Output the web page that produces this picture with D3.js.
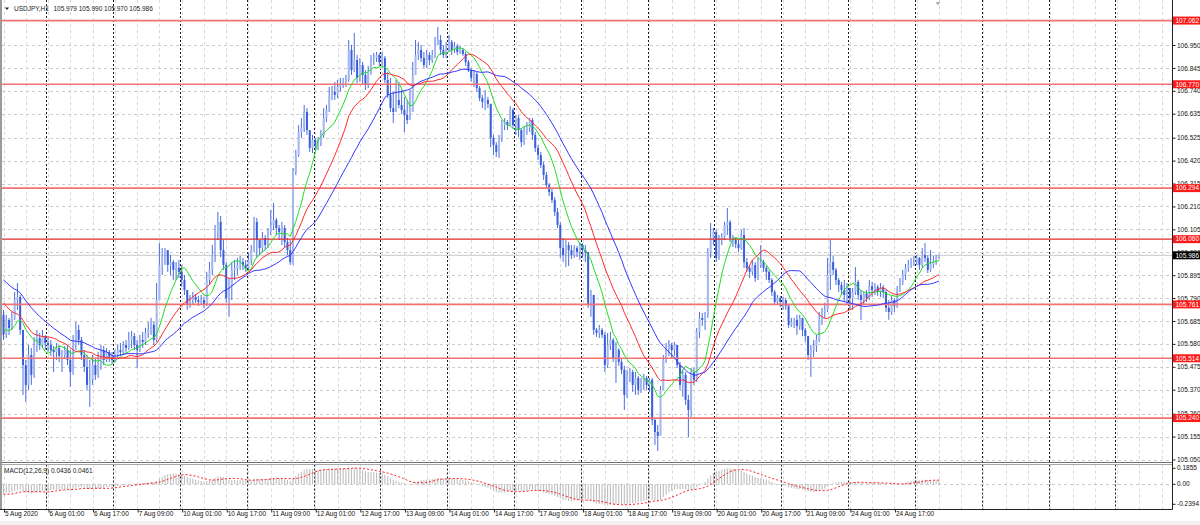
<!DOCTYPE html>
<html><head><meta charset="utf-8">
<script src="https://cdn.jsdelivr.net/npm/d3@7"></script>
<style>html,body{margin:0;padding:0;background:#fff;overflow:hidden}</style>
</head><body>
<svg id="c" width="1200" height="525"></svg>
<script>
// ---------------- DATA ----------------
const symbolTitle = "USDJPY,H1";
const lastQuote = ["105.979", "105.990", "105.970", "105.986"];
const firstBarHour = 9; // first visible bar: 5 Aug 2020 09:00
// closes before the visible window (only used to seed the indicators)
const priorCloses = [106.079,106.056,106.065,106.033,106.047,106.010,106.038,106.065,106.029,106.019,106.042,106.056,106.024,
  105.987,105.955,105.919,105.928,105.896,105.873,105.850,105.836,105.827,105.818,105.790,
  105.699,105.667,105.644,105.621,105.589,105.607,105.621,105.658,105.713];
const closes = [
105.621,105.690,105.653,105.699,105.781,105.795,105.644,105.483,105.392,105.529,
105.438,105.575,105.607,105.575,105.612,105.584,105.575,105.552,105.543,105.561,
105.525,105.529,105.552,105.506,105.451,105.575,105.644,105.598,105.529,105.474,
105.392,105.415,105.483,105.438,105.497,105.552,105.506,105.543,105.520,105.506,
105.529,105.552,105.543,105.575,105.561,105.598,105.616,105.575,105.552,105.598,
105.589,105.630,105.644,105.667,105.598,105.781,105.942,105.987,106.010,105.942,
105.955,105.919,105.928,105.910,105.873,105.827,105.758,105.781,105.795,105.781,
105.772,105.781,105.758,105.873,105.919,105.987,106.102,106.139,106.010,105.942,
105.790,105.850,105.919,105.928,105.942,105.955,105.942,105.928,105.965,106.010,
106.139,106.056,106.019,106.065,106.033,106.093,106.125,106.148,106.111,106.093,
106.111,106.047,106.010,105.955,106.368,106.446,106.551,106.569,106.643,106.560,
106.478,106.515,106.492,106.505,106.538,106.615,106.652,106.712,106.735,106.721,
106.758,106.767,106.781,106.790,106.927,106.835,106.881,106.799,106.858,106.813,
106.767,106.826,106.881,106.890,106.904,106.872,106.890,106.790,106.721,106.661,
106.643,106.698,106.675,106.652,106.629,106.606,106.643,106.813,106.904,106.927,
106.890,106.858,106.904,106.881,106.904,106.950,106.973,106.927,106.904,106.936,
106.964,106.927,106.945,106.918,106.927,106.909,106.872,106.835,106.799,106.817,
106.753,106.707,106.689,106.698,106.680,106.524,106.492,106.460,106.524,106.583,
106.597,106.583,106.652,106.583,106.615,106.560,106.505,106.560,106.569,106.606,
106.538,106.478,106.446,106.400,106.354,106.308,106.276,106.240,106.185,106.125,
106.019,105.987,106.033,106.010,105.987,106.019,106.001,106.033,106.010,106.001,
105.758,105.804,105.644,105.630,105.644,105.621,105.483,105.575,105.598,105.515,
105.552,105.497,105.461,105.346,105.438,105.451,105.392,105.424,105.369,105.405,
105.424,105.392,105.415,105.231,105.176,105.158,105.369,105.506,105.561,105.575,
105.552,105.575,105.483,105.392,105.438,105.323,105.277,105.451,105.415,105.635,
105.699,105.690,105.713,106.001,106.065,106.093,105.974,106.056,106.070,106.125,
106.139,106.065,106.056,106.038,106.019,106.079,105.955,105.928,105.910,105.942,
105.882,105.942,105.955,105.928,105.910,105.873,105.818,105.772,105.790,105.772,
105.781,105.754,105.667,105.681,105.690,105.662,105.699,105.644,105.616,105.529,
105.552,105.570,105.598,105.690,105.726,105.736,105.896,105.955,105.919,105.873,
105.850,105.827,105.804,105.836,105.790,105.818,105.864,105.804,105.781,105.809,
105.790,105.845,105.827,105.841,105.818,105.836,105.818,105.745,105.726,105.781,
105.754,105.827,105.864,105.896,105.928,105.942,105.955,105.955,105.974,105.942,
105.987,105.974,105.919,105.946,105.955,105.979,105.986];
const highs = [
105.736,105.713,105.699,105.726,105.818,105.859,105.804,105.644,105.506,105.575,
105.561,105.612,105.644,105.630,105.644,105.621,105.607,105.598,105.570,105.584,
105.575,105.552,105.570,105.575,105.552,105.621,105.681,105.667,105.612,105.552,
105.529,105.506,105.529,105.515,105.543,105.575,105.570,105.561,105.552,105.543,
105.552,105.575,105.584,105.593,105.598,105.635,105.639,105.630,105.598,105.621,
105.635,105.653,105.681,105.699,105.681,105.859,106.042,106.019,106.019,106.010,
105.987,105.965,105.955,105.965,105.942,105.896,105.827,105.804,105.818,105.809,
105.800,105.804,105.795,105.910,105.955,106.033,106.125,106.185,106.166,106.056,
105.955,105.882,105.955,105.965,105.974,105.983,105.974,105.965,105.997,106.033,
106.162,106.157,106.056,106.093,106.079,106.111,106.194,106.226,106.157,106.125,
106.139,106.125,106.065,106.056,106.386,106.469,106.583,106.615,106.675,106.661,
106.560,106.538,106.524,106.528,106.560,106.661,106.675,106.758,106.762,106.781,
106.790,106.799,106.799,106.813,106.973,106.950,107.005,106.904,106.890,106.872,
106.835,106.854,106.904,106.913,106.918,106.913,106.918,106.900,106.826,106.799,
106.735,106.790,106.781,106.744,106.712,106.698,106.744,106.872,106.973,106.964,
106.950,106.918,106.927,106.918,106.927,106.987,107.032,106.996,106.950,106.964,
106.996,106.973,106.964,106.955,106.945,106.936,106.918,106.881,106.845,106.835,
106.826,106.762,106.721,106.744,106.712,106.680,106.538,106.505,106.538,106.606,
106.615,106.606,106.670,106.661,106.629,106.629,106.569,106.579,106.597,106.615,
106.615,106.551,106.492,106.460,106.414,106.368,106.317,106.295,106.253,106.203,
106.139,106.065,106.056,106.047,106.033,106.033,106.029,106.047,106.042,106.033,
106.001,105.827,105.804,105.653,105.667,105.653,105.635,105.630,105.635,105.607,
105.589,105.561,105.515,105.479,105.461,105.470,105.461,105.451,105.433,105.424,
105.442,105.433,105.424,105.424,105.240,105.208,105.387,105.529,105.584,105.598,
105.584,105.589,105.575,105.497,105.461,105.451,105.346,105.470,105.470,105.653,
105.726,105.722,105.726,106.019,106.134,106.111,106.102,106.079,106.088,106.139,
106.203,106.148,106.079,106.065,106.056,106.102,106.111,105.974,105.942,105.965,
105.955,105.974,106.033,105.965,105.937,105.919,105.882,105.827,105.804,105.800,
105.795,105.790,105.758,105.699,105.699,105.713,105.713,105.699,105.653,105.616,
105.575,105.598,105.621,105.726,105.745,105.768,105.974,106.056,105.983,105.928,
105.882,105.864,105.873,105.859,105.836,105.836,105.932,105.873,105.827,105.818,
105.827,105.873,105.864,105.859,105.850,105.859,105.850,105.827,105.781,105.800,
105.790,105.845,105.882,105.919,105.946,105.965,105.974,105.983,105.987,105.978,
106.019,106.042,105.987,106.010,105.983,105.987,105.990];
const lows = [
105.598,105.607,105.621,105.644,105.690,105.736,105.621,105.346,105.314,105.369,
105.392,105.424,105.543,105.552,105.561,105.552,105.543,105.525,105.451,105.506,
105.497,105.451,105.515,105.483,105.383,105.438,105.552,105.575,105.506,105.451,
105.369,105.291,105.392,105.415,105.424,105.461,105.483,105.497,105.497,105.488,
105.497,105.515,105.525,105.529,105.543,105.552,105.561,105.552,105.470,105.543,
105.561,105.575,105.607,105.621,105.575,105.589,105.781,105.896,105.942,105.910,
105.896,105.873,105.873,105.882,105.841,105.804,105.736,105.745,105.758,105.768,
105.754,105.758,105.745,105.754,105.850,105.896,105.955,106.056,105.978,105.919,
105.768,105.704,105.781,105.873,105.896,105.919,105.919,105.910,105.919,105.942,
106.001,105.978,105.987,106.001,106.010,106.019,106.079,106.102,106.079,106.056,
106.033,106.019,105.987,105.942,105.942,106.354,106.437,106.524,106.551,106.538,
106.460,106.455,106.469,106.469,106.487,106.524,106.597,106.643,106.698,106.698,
106.707,106.735,106.753,106.758,106.781,106.813,106.826,106.776,106.781,106.767,
106.744,106.753,106.813,106.858,106.872,106.854,106.854,106.776,106.707,106.643,
106.593,106.680,106.661,106.634,106.551,106.588,106.606,106.712,106.835,106.881,
106.872,106.845,106.845,106.858,106.867,106.890,106.959,106.904,106.890,106.890,
106.918,106.904,106.913,106.904,106.909,106.900,106.854,106.826,106.781,106.758,
106.735,106.693,106.661,106.652,106.661,106.482,106.446,106.437,106.432,106.505,
106.560,106.560,106.579,106.569,106.538,106.528,106.482,106.492,106.538,106.551,
106.515,106.460,106.423,106.386,106.331,106.295,106.258,106.226,106.166,106.111,
105.974,105.955,105.932,105.937,105.969,105.974,105.978,105.965,105.974,105.955,
105.745,105.704,105.621,105.612,105.607,105.607,105.451,105.470,105.552,105.497,
105.401,105.479,105.442,105.277,105.332,105.405,105.360,105.346,105.346,105.355,
105.369,105.369,105.360,105.208,105.117,105.089,105.158,105.369,105.493,105.525,
105.515,105.525,105.470,105.369,105.337,105.300,105.153,105.245,105.392,105.405,
105.607,105.662,105.644,105.699,105.974,106.033,105.955,105.965,106.033,106.056,
106.079,106.047,106.024,106.019,106.001,106.010,105.928,105.910,105.882,105.896,
105.864,105.873,105.928,105.910,105.873,105.859,105.800,105.758,105.758,105.749,
105.736,105.736,105.653,105.658,105.653,105.621,105.644,105.616,105.589,105.506,
105.429,105.520,105.543,105.589,105.667,105.699,105.726,105.827,105.896,105.850,
105.818,105.804,105.772,105.758,105.736,105.736,105.804,105.781,105.690,105.758,
105.772,105.781,105.795,105.804,105.800,105.795,105.790,105.726,105.690,105.713,
105.726,105.745,105.818,105.850,105.873,105.910,105.928,105.937,105.942,105.919,
105.928,105.955,105.905,105.910,105.928,105.942,105.970];

const priceTicks = [106.950,106.845,106.740,106.635,106.525,106.420,106.315,106.210,106.105,106.000,
  105.895,105.790,105.685,105.580,105.475,105.370,105.260,105.155,105.050];
const hLines = [107.062, 106.770, 106.294, 106.060, 105.761, 105.514, 105.240];
const strongLine = 106.060;
const currentPrice = 105.986;
const timeLabels = ["5 Aug 2020","6 Aug 01:00","6 Aug 17:00","7 Aug 09:00","10 Aug 01:00","10 Aug 17:00",
  "11 Aug 09:00","12 Aug 01:00","12 Aug 17:00","13 Aug 09:00","14 Aug 01:00","14 Aug 17:00","17 Aug 09:00",
  "18 Aug 01:00","18 Aug 17:00","19 Aug 09:00","20 Aug 01:00","20 Aug 17:00","21 Aug 09:00","24 Aug 01:00","24 Aug 17:00"];
const timeLabelBars = [0,16,32,48,64,80,96,112,128,144,160,176,192,208,224,240,256,272,288,304,320];
const maPeriods = [10, 21, 34];
const maColors = ["#22dd22", "#ff2a2a", "#3535ff"];
const macdParams = [12, 26, 9];
const macdText = "MACD(12,26,9) 0.0436 0.0461";
const macdTicks = [0.1855, 0, -0.2394];
const macdTickLabels = ["0.1855", "0.00", "-0.2394"];

// ---------------- LAYOUT ----------------
const FONT = "'Liberation Sans', Arial, sans-serif";
const PL = 2, PR = 1172.5, MT = 0, MB = 462.5, CT = 464.5, CB = 509.5;
const n = closes.length;
const x = d3.scaleLinear().domain([0, n - 1]).range([3.5, 3.5 + 2.784 * (n - 1)]);
const y = d3.scaleLinear().domain([105.050, 106.950]).range([459.5, 45]);
const my = d3.scaleLinear().domain([-0.2394, 0.1855]).range([508, 466]);

const opens = closes.map((c, i) => i ? closes[i - 1] : priorCloses[priorCloses.length - 1]);
const bars = closes.map((c, i) => ({
  i, o: opens[i], c,
  h: Math.max(highs[i], opens[i], c),
  l: Math.min(lows[i], opens[i], c)
}));

// indicators
const full = priorCloses.concat(closes), P = priorCloses.length;
function sma(a, p) { return a.map((v, i) => i < p - 1 ? null : d3.mean(a.slice(i - p + 1, i + 1))); }
function ema(a, p) { const k = 2 / (p + 1); let e = a[0]; return a.map((v, i) => (e = i ? v * k + e * (1 - k) : v)); }
const mas = maPeriods.map(p => sma(full, p).slice(P));
const e1 = ema(full, macdParams[0]), e2 = ema(full, macdParams[1]);
const macdFull = e1.map((v, i) => v - e2[i]);
const sigFull = sma(macdFull, macdParams[2]);
const macd = macdFull.slice(P), signal = sigFull.slice(P);

const svg = d3.select("#c");
svg.append("rect").attr("width", 1200).attr("height", 525).attr("fill", "#fff");
const defs = svg.append("defs");
defs.append("clipPath").attr("id", "cm").append("rect").attr("x", PL).attr("y", MT).attr("width", PR - PL).attr("height", MB - MT);
defs.append("clipPath").attr("id", "cc").append("rect").attr("x", PL).attr("y", CT).attr("width", PR - PL).attr("height", CB - CT);

const main = svg.append("g").attr("clip-path", "url(#cm)");
const mac = svg.append("g").attr("clip-path", "url(#cc)");

// grids (light dashed every 8 bars, dark dotted day separators)
const lastVisible = Math.floor(x.invert(PR));
const dayStart = (24 - firstBarHour) % 24;
const gridBars = d3.range(0, lastVisible + 1, 8);
const dayBars = d3.range(dayStart, lastVisible + 1, 24);
[main, mac].forEach((g, k) => {
  const t = k ? CT : MT, b = k ? CB : MB;
  g.append("g").attr("class", "vgrid").selectAll("line").data(gridBars).join("line")
    .attr("x1", d => Math.round(x(d)) + 0.5).attr("x2", d => Math.round(x(d)) + 0.5)
    .attr("y1", t).attr("y2", b)
    .style("stroke", "#d9d9d9").style("stroke-width", "1px").style("stroke-dasharray", "3,3");
  g.append("g").attr("class", "vsep").selectAll("line").data(dayBars).join("line")
    .attr("x1", d => Math.round(x(d)) + 1.5).attr("x2", d => Math.round(x(d)) + 1.5)
    .attr("y1", t).attr("y2", b)
    .style("stroke", "#1a1a1a").style("stroke-width", "1px").style("stroke-dasharray", "2,2");
});
main.append("g").selectAll("line").data(priceTicks).join("line")
  .attr("x1", PL).attr("x2", PR).attr("y1", d => Math.round(y(d)) + 0.5).attr("y2", d => Math.round(y(d)) + 0.5)
  .style("stroke", "#cccccc").style("stroke-dasharray", "3,3");
mac.append("line").attr("x1", PL).attr("x2", PR).attr("y1", Math.round(my(0)) + 0.5).attr("y2", Math.round(my(0)) + 0.5)
  .style("stroke", "#cccccc").style("stroke-dasharray", "3,3");

// current price line
main.append("line").attr("x1", PL).attr("x2", PR).attr("y1", y(currentPrice)).attr("y2", y(currentPrice))
  .attr("stroke", "#c8c8c8").attr("stroke-width", 1);

// candles
const cg = main.append("g");
cg.selectAll("line").data(bars).join("line")
  .attr("x1", d => x(d.i)).attr("x2", d => x(d.i))
  .attr("y1", d => y(d.h)).attr("y2", d => y(d.l))
  .attr("stroke", "#4a6ee0").attr("stroke-width", 1);
cg.selectAll("rect").data(bars).join("rect")
  .attr("x", d => x(d.i) - 1).attr("width", 2)
  .attr("y", d => y(Math.max(d.o, d.c)))
  .attr("height", d => Math.max(1, Math.abs(y(d.o) - y(d.c))))
  .attr("fill", d => d.c >= d.o ? "#a4b7ef" : "#3a5fdc");

// horizontal line objects
main.append("g").selectAll("line").data(hLines).join("line")
  .attr("x1", PL).attr("x2", PR).attr("y1", d => y(d)).attr("y2", d => y(d))
  .attr("stroke", d => d === strongLine ? "#e02a2a" : "#f27272")
  .attr("stroke-width", d => d === strongLine ? 1.1 : 1.7);

// moving averages
mas.forEach((m, k) => {
  main.append("path").datum(m)
    .attr("d", d3.line().defined(v => v != null).x((v, i) => x(i)).y(v => y(v)))
    .attr("fill", "none").attr("stroke", maColors[k]).attr("stroke-width", 1);
});

// MACD histogram + signal
mac.append("g").selectAll("line").data(macd).join("line")
  .attr("x1", (v, i) => x(i)).attr("x2", (v, i) => x(i))
  .attr("y1", my(0)).attr("y2", v => my(v))
  .attr("stroke", "#bdbdbd").attr("stroke-width", 1.1);
mac.append("path").datum(signal)
  .attr("d", d3.line().defined(v => v != null).x((v, i) => x(i)).y(v => my(v)))
  .attr("fill", "none").attr("stroke", "#ff2020").attr("stroke-width", 1).attr("stroke-dasharray", "2,2");

// frames
svg.append("rect").attr("x", 0).attr("y", 0).attr("width", 2).attr("height", 510).attr("fill", "#9a9a9a");
svg.append("line").attr("x1", PL).attr("x2", PR).attr("y1", 462.5).attr("y2", 462.5).attr("stroke", "#6e6e6e");
svg.append("line").attr("x1", PL).attr("x2", PR).attr("y1", 464.5).attr("y2", 464.5).attr("stroke", "#a8a8a8");
svg.append("line").attr("x1", 0).attr("x2", PR).attr("y1", CB).attr("y2", CB).attr("stroke", "#202020");
svg.append("line").attr("x1", PR).attr("x2", PR).attr("y1", 0).attr("y2", CB).attr("stroke", "#202020");
svg.append("rect").attr("x", 0).attr("y", 521).attr("width", 1200).attr("height", 4).attr("fill", "#f0f0f0");

// axes
function styleAxis(g) {
  g.select(".domain").remove();
  g.selectAll("text").attr("font-family", FONT).attr("font-size", "6.5px").attr("fill", "#111");
  g.selectAll(".tick line").attr("stroke", "#202020");
}
const yAxis = svg.append("g").attr("transform", `translate(${PR},0)`)
  .call(d3.axisRight(y).tickValues(priceTicks).tickFormat(d3.format(".3f")).tickSize(3).tickPadding(1.5));
styleAxis(yAxis);

const mAxis = svg.append("g").attr("transform", `translate(${PR},0)`)
  .call(d3.axisRight(my).tickValues(macdTicks).tickFormat((d, i) => macdTickLabels[i]).tickSize(3).tickPadding(1.5));
styleAxis(mAxis);
mAxis.selectAll(".tick").attr("transform", d => `translate(0,${Math.max(468.3, Math.min(504.3, my(d)))})`);

const xAxis = svg.append("g").attr("transform", `translate(0,${CB})`)
  .call(d3.axisBottom(x).tickValues(timeLabelBars).tickFormat((d, i) => timeLabels[i]).tickSize(3).tickPadding(1));
styleAxis(xAxis);
xAxis.selectAll(".tick line").attr("transform", "translate(0.5,0)");
xAxis.selectAll("text").attr("text-anchor", "start").attr("x", 1).attr("y", 0).attr("dy", "1.05em");

// price label boxes
const boxes = svg.append("g");
hLines.forEach(v => {
  boxes.append("rect").attr("x", PR + 0.5).attr("y", y(v) - 4).attr("width", 1200 - PR).attr("height", 8).attr("fill", "#ff1a1a");
  boxes.append("text").attr("x", PR + 3).attr("y", y(v)).attr("dy", "0.35em").text(d3.format(".3f")(v))
    .attr("font-family", FONT).attr("font-size", "6.5px").attr("fill", "#fff");
});
boxes.append("rect").attr("x", PR + 0.5).attr("y", y(currentPrice) - 4).attr("width", 1200 - PR).attr("height", 8).attr("fill", "#000");
boxes.append("text").attr("x", PR + 3).attr("y", y(currentPrice)).attr("dy", "0.35em").text(d3.format(".3f")(currentPrice))
  .attr("font-family", FONT).attr("font-size", "6.5px").attr("fill", "#fff");

// header
svg.append("path").attr("d", "M5,7.5 L9,7.5 L7,10 Z").attr("fill", "#222");
const hdr = svg.append("text").attr("x", 14).attr("y", 11.2).attr("font-family", FONT).attr("font-size", "6.5px").attr("fill", "#222");
hdr.append("tspan").text(symbolTitle);
hdr.append("tspan").attr("dx", 5).text(lastQuote.join(" "));
svg.append("path").attr("d", "M935.5,2 L940.5,2 L938,5.5 Z").attr("fill", "#b0b0b0");

// MACD label
svg.append("text").attr("x", 4).attr("y", 472.5).attr("font-family", FONT).attr("font-size", "6.5px").attr("fill", "#222").text(macdText);
</script>
</body></html>
